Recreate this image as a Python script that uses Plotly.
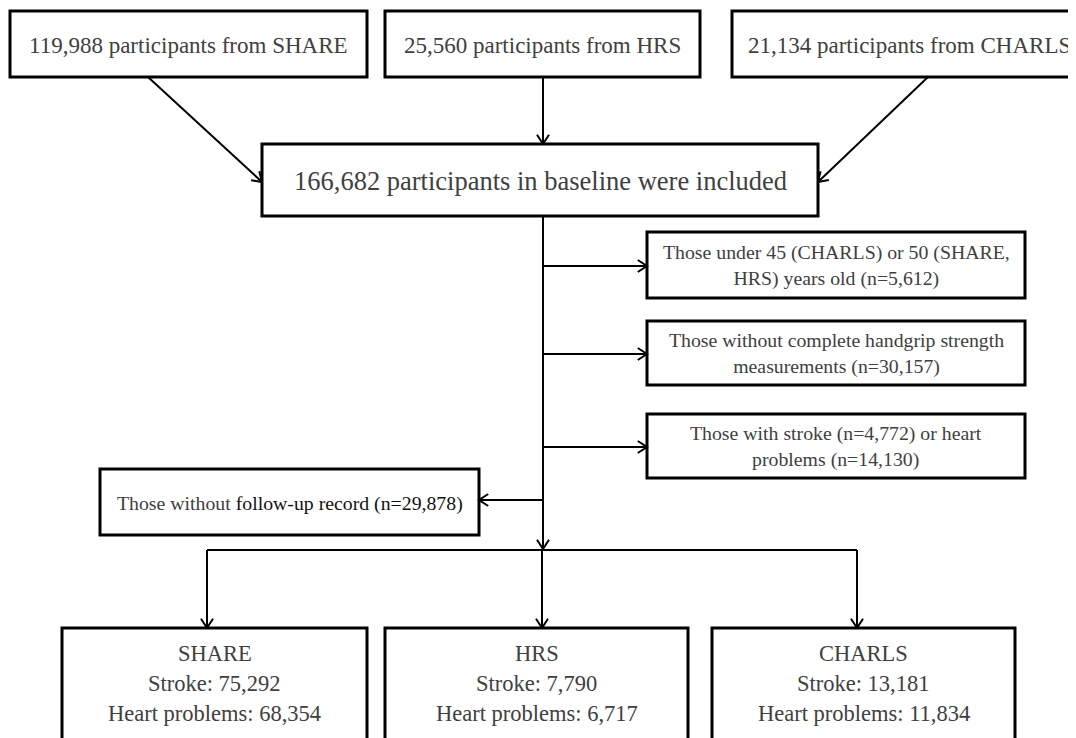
import math
import plotly.graph_objects as go

# ---------------- data ----------------
cohorts = ["SHARE", "HRS", "CHARLS"]
baseline_n = [119988, 25560, 21134]
total_baseline = 166682
excl_age_n = 5612
excl_handgrip_n = 30157
excl_stroke_n = 4772
excl_heart_n = 14130
no_followup_n = 29878
stroke_n = [75292, 7790, 13181]
heart_n = [68354, 6717, 11834]

# ---------------- layout (page pixel coordinates) ----------------
W, H = 1076, 738
PAD = 8  # default page body margin
TEXT = "#404040"
FONT = "Liberation Serif, Times New Roman, serif"

top_boxes = [(10, 11, 367, 77), (385, 11, 700, 77), (732, 11, 1086, 77)]
mid_box = (262, 144, 818, 216)
excl_boxes = [(647, 232, 1025, 298), (647, 321, 1025, 385), (647, 414, 1025, 478)]
fu_box = (100, 469, 479, 535)
bot_boxes = [(62, 628, 367, 760), (385, 628, 688, 760), (712, 628, 1015, 760)]

spine_x = 543
split_y = 550
branch_x = [207, 542, 857]

fig = go.Figure()
shapes = []
annotations = []


def rect(b, lw=3):
    shapes.append(dict(type="rect", xref="x", yref="y", x0=b[0], y0=b[1], x1=b[2], y1=b[3],
                       line=dict(color="black", width=lw), fillcolor="white", layer="above"))


def line(x0, y0, x1, y1, lw=2):
    shapes.append(dict(type="line", xref="x", yref="y", x0=x0, y0=y0, x1=x1, y1=y1,
                       line=dict(color="black", width=lw), layer="above"))


def arrow(x0, y0, x1, y1, lw=2, L=11, ang=33):
    line(x0, y0, x1, y1, lw)
    dx, dy = x1 - x0, y1 - y0
    d = math.hypot(dx, dy)
    ux, uy = dx / d, dy / d
    a = math.radians(ang)
    pts = []
    for s in (1, -1):
        ca, sa = math.cos(s * a), math.sin(s * a)
        rx = -(ux * ca - uy * sa)
        ry = -(ux * sa + uy * ca)
        pts.append((x1 + L * rx, y1 + L * ry))
    path = f"M {pts[0][0]},{pts[0][1]} L {x1},{y1} L {pts[1][0]},{pts[1][1]}"
    shapes.append(dict(type="path", xref="x", yref="y", path=path,
                       line=dict(color="black", width=lw), layer="above"))


def label(x, y, text, size, color=TEXT):
    annotations.append(dict(x=x, y=y, xref="x", yref="y", text=text, showarrow=False,
                            font=dict(family=FONT, size=size, color=color),
                            xanchor="center", yanchor="middle", align="center"))


def cx(b):
    return (b[0] + b[2]) / 2


def cy(b):
    return (b[1] + b[3]) / 2


# top boxes
for b, name, n in zip(top_boxes, cohorts, baseline_n):
    rect(b)
    label(cx(b), cy(b) + 1, f"{n:,} participants from {name}", 23)

# arrows into baseline box
arrow(148, 77, 262, 182)
arrow(spine_x, 77, spine_x, 144)
arrow(928, 77, 818, 182)

rect(mid_box)
label(cx(mid_box), cy(mid_box) + 1, f"{total_baseline:,} participants in baseline were included", 26.5)

# spine
arrow(spine_x, 216, spine_x, split_y - 1)

excl_texts = [
    f"Those under 45 (CHARLS) or 50 (SHARE,<br>HRS) years old (n={excl_age_n:,})",
    f"Those without complete handgrip strength<br>measurements (n={excl_handgrip_n:,})",
    f"Those with stroke (n={excl_stroke_n:,}) or heart<br>problems (n={excl_heart_n:,})",
]
for b, t in zip(excl_boxes, excl_texts):
    rect(b)
    arrow(spine_x, cy(b) + 1, b[0], cy(b) + 1)
    label(cx(b), cy(b), t, 19.8)

rect(fu_box)
arrow(spine_x, 500, fu_box[2], 500)
label(cx(fu_box), cy(fu_box) + 1,
      f"Those without <span style='color:#111111'>follow-up record (n={no_followup_n:,})</span>", 19.8)

# split line
line(branch_x[0], split_y, branch_x[-1], split_y)
for x, b, name, s, h in zip(branch_x, bot_boxes, cohorts, stroke_n, heart_n):
    arrow(x, split_y, x, b[1])
    rect(b)
    label(cx(b), 653, name, 22.5)
    label(cx(b), 683, f"Stroke: {s:,}", 22.5)
    label(cx(b), 713, f"Heart problems: {h:,}", 22.5)

fig.update_layout(
    width=W, height=H - PAD,
    margin=dict(l=0, r=0, t=0, b=0),
    paper_bgcolor="white", plot_bgcolor="white",
    xaxis=dict(range=[PAD, W + PAD], visible=False, fixedrange=True),
    yaxis=dict(range=[H, PAD], visible=False, fixedrange=True),
    shapes=shapes, annotations=annotations, showlegend=False,
)
fig.write_html("out.html")
